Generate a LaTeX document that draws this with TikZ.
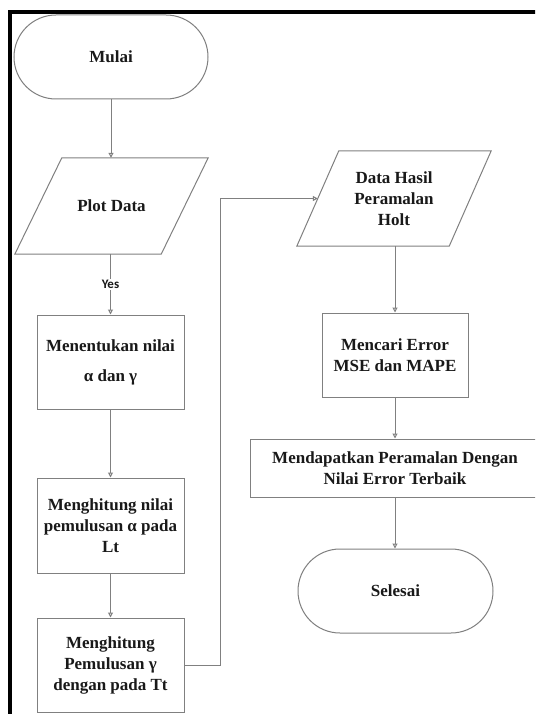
\documentclass[tikz,border=0pt]{standalone}
\usepackage{fontspec}
\setmainfont{Liberation Serif}
\newfontfamily\yesfont{Carlito}
\usetikzlibrary{arrows.meta,calc}
\definecolor{linegray}{RGB}{128,128,128}
\definecolor{textdark}{RGB}{25,25,25}
\begin{document}
\begin{tikzpicture}[x=1pt,y=1pt,
  line/.style={draw=linegray, line width=1pt},
  flow/.style={line, -{Triangle[open,length=5pt,width=5pt]}},
  txt/.style={rectangle, align=center, inner sep=0pt, text=textdark,
    font=\fontsize{17}{21}\selectfont\bfseries},
  box/.style={txt, draw=linegray, line width=1pt},
  term/.style={box, rounded corners=42pt},
  yeslabel/.style={fill=white, inner sep=1pt, text=textdark,
    font=\yesfont\bfseries\fontsize{13}{13}\selectfont}
]
\useasboundingbox (0,0) rectangle (535,-714);
\clip (0,0) rectangle (535,-714);
\fill[white] (0,0) rectangle (535,-714);
% frame
\draw[line width=3.5pt, black] (10,-730) -- (10,-12) -- (545,-12);

% left column
\node[term, minimum width=194pt, minimum height=84pt] (mulai) at (111,-57) {Mulai};
\node[txt, minimum width=146pt, minimum height=96pt] (plot) at (111.5,-206) {Plot Data};
\draw[line] ($(plot.north west)+(23.5,0)$) -- ($(plot.north east)+(23.5,0)$)
  -- ($(plot.south east)+(-23.5,0)$) -- ($(plot.south west)+(-23.5,0)$) -- cycle;
\node[box, minimum width=147pt, minimum height=94pt] (b1) at (110.5,-362)
  {Menentukan nilai\\[9pt]α dan γ};
\node[box, minimum width=147pt, minimum height=95pt] (b2) at (110.5,-525.5)
  {Menghitung nilai\\pemulusan α pada\\Lt};
\node[box, minimum width=147pt, minimum height=94pt] (b3) at (110.5,-665)
  {Menghitung\\Pemulusan γ\\dengan pada Tt};

% right column
\node[txt, minimum width=152pt, minimum height=95pt] (holt) at (394,-198.5)
  {Data Hasil\\Peramalan\\Holt};
\draw[line] ($(holt.north west)+(21,0)$) -- ($(holt.north east)+(21,0)$)
  -- ($(holt.south east)+(-21,0)$) -- ($(holt.south west)+(-21,0)$) -- cycle;
\node[box, minimum width=146pt, minimum height=84pt] (mencari) at (395,-355)
  {Mencari Error\\MSE dan MAPE};
\node[box, minimum width=290pt, minimum height=58pt] (best) at (395,-468)
  {Mendapatkan Peramalan Dengan\\Nilai Error Terbaik};
\node[term, minimum width=195pt, minimum height=84pt] (selesai) at (395.5,-591) {Selesai};

% connectors
\draw[flow] (mulai.south) -- (mulai.south |- plot.north);
\draw[flow] (plot.south -| b1.north) -- node[yeslabel] {Yes} (b1.north);
\draw[flow] (b1.south) -- (b2.north);
\draw[flow] (b2.south) -- (b3.north);
\draw[flow] (b3.east) -- ++(36,0) |- (holt.west);
\draw[flow] (holt.south -| mencari.north) -- (mencari.north);
\draw[flow] (mencari.south) -- (mencari.south |- best.north);
\draw[flow] (mencari.south |- best.south) -- (mencari.south |- selesai.north);
\end{tikzpicture}
\end{document}
